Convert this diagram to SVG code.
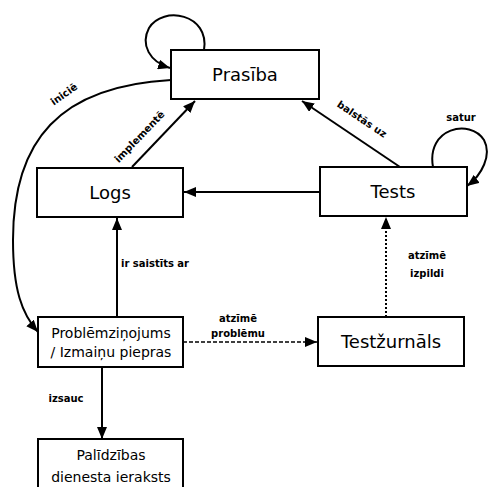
<svg xmlns="http://www.w3.org/2000/svg" width="488" height="487" viewBox="0 0 488 487">
  <defs>
    <marker id="arrow" viewBox="0 0 12 10" refX="12" refY="5" markerWidth="12" markerHeight="10" markerUnits="userSpaceOnUse" orient="auto">
      <path d="M0,0 L12,5 L0,10 Z" fill="#000"/>
    </marker>
  </defs>
  <style>
    .box { fill: #fff; stroke: #000; stroke-width: 2; }
    .big { font-family: "DejaVu Sans", sans-serif; font-size: 18px; fill: #000; text-anchor: middle; }
    .mid { font-family: "DejaVu Sans", sans-serif; font-size: 14px; fill: #000; text-anchor: middle; }
    .lbl { font-family: "DejaVu Sans", sans-serif; font-size: 10px; font-weight: bold; fill: #000; text-anchor: middle; }
    .edge { fill: none; stroke: #000; stroke-width: 2; marker-end: url(#arrow); }
    .dash { stroke-dasharray: 4 2; stroke-width: 1.6; }
    .dot { stroke-dasharray: 2 2; stroke-width: 2; }
  </style>
  <rect width="488" height="487" fill="#fff"/>

  <g id="connectors">
    <!-- Prasība self loop -->
    <path class="edge" d="M204,50 C210,14 163,5 149,28 C140,45 150,62 170,68"/>
    <!-- iniciē -->
    <path class="edge" d="M171,80 C60,86 13,140 13,240 C13,290 22,314 38,332"/>
    <!-- implementē -->
    <path class="edge" d="M132,167 L195,101"/>
    <!-- Tests -> Logs -->
    <path class="edge" d="M320,192 L184,192"/>
    <!-- balstās uz -->
    <path class="edge" d="M400,167 L302,101"/>
    <!-- Tests self loop -->
    <path class="edge" d="M433,167 C426,128 470,118 484,140 C492,155 482,175 467,186"/>
    <!-- ir saistīts ar -->
    <path class="edge" d="M117,317 L117,218"/>
    <!-- atzīmē problēmu -->
    <path class="edge dash" d="M183,342 L317,342"/>
    <!-- atzīmē izpildi -->
    <path class="edge dot" d="M386,317 L386,217"/>
    <!-- izsauc -->
    <path class="edge" d="M102,367 L102,439"/>

    <text class="lbl" transform="translate(66,97) rotate(-36)">iniciē</text>
    <text class="lbl" transform="translate(142,139) rotate(-46)">implementē</text>
    <text class="lbl" transform="translate(360,122) rotate(34)">balstās uz</text>
    <text class="lbl" x="461" y="121">satur</text>
    <text class="lbl" x="121" y="267" style="text-anchor:start">ir saistīts ar</text>
    <text class="lbl" x="238" y="322">atzīmē</text>
    <text class="lbl" x="238" y="337">problēmu</text>
    <text class="lbl" x="427" y="259">atzīmē</text>
    <text class="lbl" x="427" y="277">izpildi</text>
    <text class="lbl" x="66" y="402">izsauc</text>
  </g>

  <g id="prasiba">
    <rect class="box" x="171" y="50" width="148" height="49"/>
    <text class="big" x="245" y="81">Prasība</text>
  </g>
  <g id="logs">
    <rect class="box" x="37" y="168" width="146" height="49"/>
    <text class="big" x="110" y="199">Logs</text>
  </g>
  <g id="tests">
    <rect class="box" x="320" y="167" width="147" height="49"/>
    <text class="big" x="393" y="198">Tests</text>
  </g>
  <g id="problemzinojums">
    <rect class="box" x="38" y="317" width="145" height="50"/>
    <text class="mid" x="111" y="338">Problēmziņojums</text>
    <text class="mid" x="111" y="357">/ Izmaiņu piepras</text>
  </g>
  <g id="testzurnals">
    <rect class="box" x="318" y="317" width="146" height="49"/>
    <text class="big" x="391" y="348">Testžurnāls</text>
  </g>
  <g id="palidzibas">
    <rect class="box" x="38" y="439" width="145" height="60"/>
    <text class="mid" x="111" y="460">Palīdzības</text>
    <text class="mid" x="111" y="482">dienesta ieraksts</text>
  </g>
</svg>
